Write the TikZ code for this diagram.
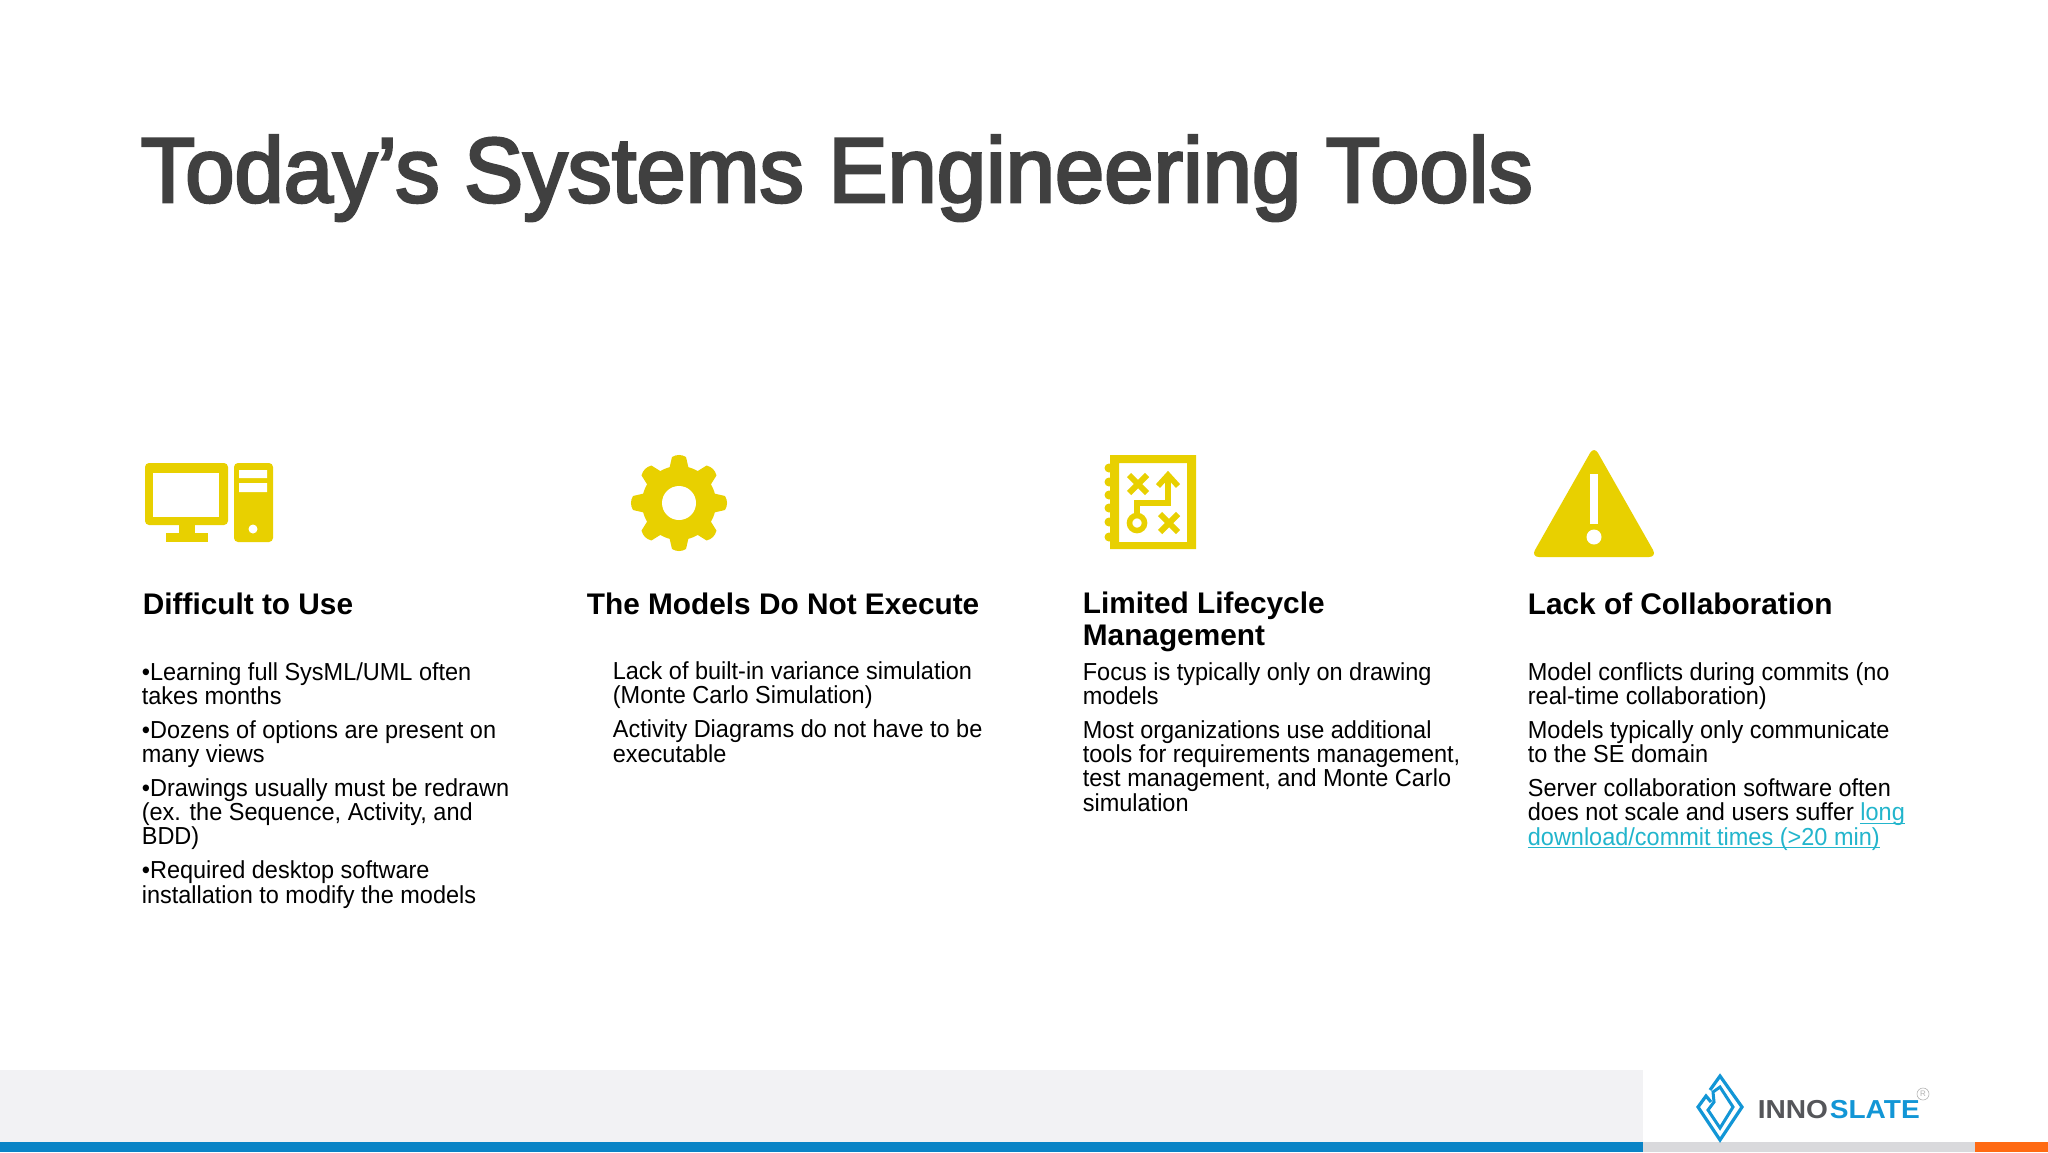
\documentclass[tikz,border=0pt]{standalone}
\usepackage{fontspec}
\setmainfont{Liberation Sans}
\newfontfamily\titlefont[FakeStretch = 0.963, FakeBold = 3]{Liberation Sans}
\newfontfamily\bodyfont[FakeStretch = 0.955]{Liberation Sans}
\newfontfamily\logofont[FakeStretch = 1.08]{Liberation Sans}
\definecolor{iconyellow}{HTML}{E8D000}
\definecolor{titlegray}{HTML}{404040}
\definecolor{footgray}{HTML}{F2F2F4}
\definecolor{footline}{HTML}{D9D9DC}
\definecolor{footblue}{HTML}{0A84C6}
\definecolor{footorange}{HTML}{FF6A13}
\definecolor{linkteal}{HTML}{22B5CC}
\definecolor{logoblue}{HTML}{1296D6}
\definecolor{logogray}{HTML}{55565A}
\newcommand{\linktext}[1]{\textcolor{linkteal}{\smash{\underline{\smash{#1}}}}}
\begin{document}
\begin{tikzpicture}[
        x = 0.5pt,
        y = -0.5pt,
        line width = 0.3mm,
        heading/.style = {anchor = base west, inner sep = 0, align = left, font = \fontsize{14.9}{15.7}\selectfont\bfseries},
        body/.style = {anchor = base west, inner sep = 0, align = left, font = \bodyfont\fontsize{12.3}{12.1}\selectfont},
        icon/.style = {fill = iconyellow, draw = none, even odd rule}
    ]
        \useasboundingbox (0,0) rectangle (2048,1152);
        \fill[white] (0,0) rectangle (2048,1152);
        % footer
        \fill[footgray] (0,1070) rectangle (1643,1142);
        \fill[footblue] (0,1142) rectangle (1643,1152);
        \fill[footline] (1643,1142) rectangle (1975,1152);
        \fill[footorange] (1975,1142) rectangle (2048,1152);
        % title
        \node[anchor = base west, inner sep = 0, text = titlegray, font = \titlefont\fontsize{46}{46}\selectfont] (title) at (140,202) {Today’s Systems Engineering Tools};
        % computer
        \draw[icon, rounded corners = 2] (145,463) rectangle (228,525);
        \fill[white] (153,473) rectangle (219,517);
        \draw[icon] (179,525) rectangle (195,533);
        \draw[icon] (166,533) rectangle (208,542);
        \draw[icon, rounded corners = 2] (234,463) rectangle (273,542);
        \fill[white] (239,470) rectangle (267,478) (239,483) rectangle (267,492);
        \fill[white] (253,529) circle (4.5);
        % gear
        \fill[iconyellow] (679,503) circle (37);
        \foreach \a in {0,45,...,315} {
            \fill[iconyellow, rotate around = {\a:(679,503)}] (669,470) -- (672,457) to[bend left = 30] (686,457) -- (689,470) -- cycle;
        }
        \fill[white] (679,503) circle (17);
        % roadmap
        \draw[icon] (1110,455) rectangle (1196,549) (1119,463) rectangle (1187,542);
        \foreach \y in {468,482,495,508,522,537} {
            \fill[iconyellow] (1109,\y) circle (4.5);
        }
        \draw[iconyellow, line width = 3pt] (1129,475) -- (1147,493) (1147,475) -- (1129,493);
        \draw[iconyellow, line width = 3pt] (1160,514) -- (1178,532) (1178,514) -- (1160,532);
        \draw[iconyellow, line width = 2.8pt] (1137,523) circle (7.5);
        \draw[iconyellow, line width = 2.6pt] (1137,516) -- (1137,503) -- (1168,503) -- (1168,475);
        \draw[iconyellow, line width = 2.8pt] (1158,486) -- (1168,475) -- (1178,486);
        % warning triangle
        \fill[iconyellow, rounded corners = 4] (1594,446) -- (1657,557) -- (1531,557) -- cycle;
        \fill[white] (1590,474) rectangle (1598,524);
        \fill[white] (1594,537) circle (7.5);
        % column 1
        \node[heading] (use) at (142,614) {Difficult to Use};
        \node[body] (usetext) at (141,903) {•Learning full SysML/UML often\\takes months\\[4.9pt]
            •Dozens of options are present on\\many views\\[4.9pt]
            •Drawings usually must be redrawn\\(ex. the Sequence, Activity, and\\BDD)\\[4.9pt]
            •Required desktop software\\installation to modify the models};
        % column 2
        \node[heading] (execute) at (586,614) {The Models Do Not Execute};
        \node[body] (executetext) at (612,762) {Lack of built-in variance simulation\\(Monte Carlo Simulation)\\[4.9pt]
            Activity Diagrams do not have to be\\executable};
        % column 3
        \node[heading] (lifecycle) at (1082,645) {Limited Lifecycle\\Management};
        \node[body] (lifecycletext) at (1082,811) {Focus is typically only on drawing\\models\\[4.9pt]
            Most organizations use additional\\tools for requirements management,\\test management, and Monte Carlo\\simulation};
        % column 4
        \node[heading] (collab) at (1527,614) {Lack of Collaboration};
        \node[body] (collabtext) at (1527,845) {Model conflicts during commits (no\\real-time collaboration)\\[4.9pt]
            Models typically only communicate\\to the SE domain\\[4.9pt]
            Server collaboration software often\\does not scale and users suffer \linktext{long}\\\linktext{download/commit times (>20 min)}};
        % logo
        \fill[white] (1643,1070) rectangle (2048,1142);
        \draw[logoblue, line width = 1.6pt] (1710,1090) -- (1720,1076) -- (1742,1107) -- (1720,1140) -- (1698,1107) -- (1706,1096) -- (1711,1102);
        \draw[logoblue, line width = 1.5pt] (1713,1092) -- (1720,1087) -- (1733,1107) -- (1720,1128) -- (1708,1110) -- (1714,1102) -- cycle;
        \node[anchor = base west, inner sep = 0, text = logogray, font = \logofont\fontsize{13}{13}\selectfont\bfseries] (inno) at (1757,1118) {INNO};
        \node[anchor = base west, inner sep = 0, text = logoblue, font = \logofont\fontsize{13}{13}\selectfont\bfseries] (slate) at (inno.base east) {SLATE};
        \node[circle, draw = gray!60, line width = 0.3pt, inner sep = 0, minimum size = 6pt, text = gray!60, font = \fontsize{4}{4}\selectfont] (reg) at (1923,1094) {R};
    \end{tikzpicture}
\end{document}
